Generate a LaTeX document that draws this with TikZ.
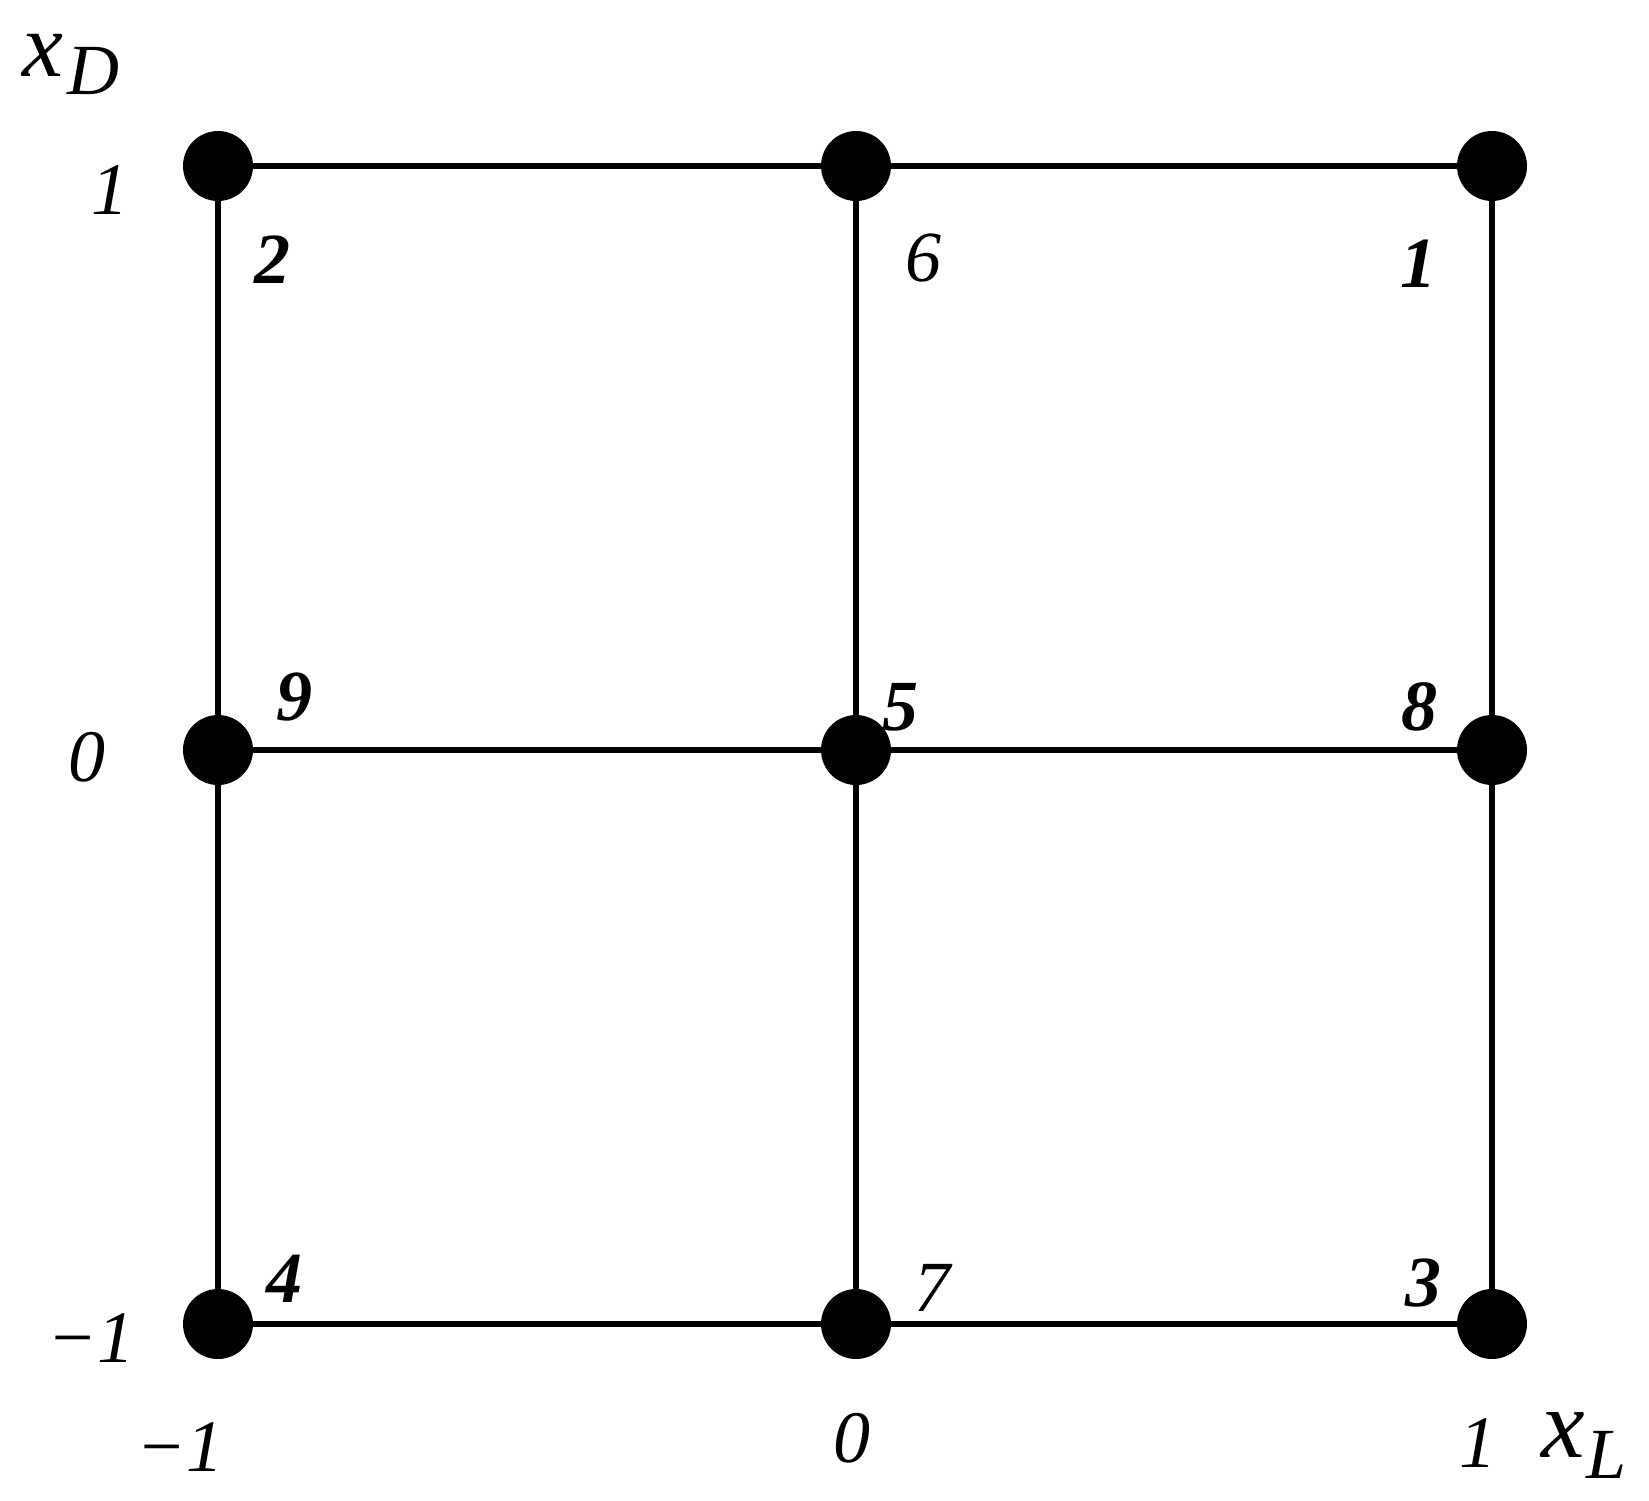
\documentclass[tikz,border=0pt]{standalone}
\usepackage{fontspec}
\setmainfont{Liberation Serif}[ItalicFont={Liberation Serif Italic},BoldItalicFont={Liberation Serif Bold Italic},BoldFont={Liberation Serif Bold}]
\begin{document}
\begin{tikzpicture}[x=0.5pt,y=-0.5pt,
  dot/.style={circle,fill=black,draw=none,minimum size=35pt,inner sep=0pt},
  edge/.style={line width=2.8pt},
  ticklab/.style={inner sep=0pt,font=\fontsize{37}{37}\selectfont\itshape},
  numlab/.style={inner sep=0pt,font=\fontsize{36}{36}\selectfont\bfseries\itshape},
  numlabthin/.style={inner sep=0pt,font=\fontsize{36}{36}\selectfont\itshape},
  axlab/.style={inner sep=0pt,anchor=base west}]
\useasboundingbox (0,0) rectangle (1649,1500);
% points
\node[dot] (n2) at (218,166) {};
\node[dot] (n6) at (856,166) {};
\node[dot] (n1) at (1492,166) {};
\node[dot] (n9) at (218,750) {};
\node[dot] (n5) at (856,750) {};
\node[dot] (n8) at (1492,750) {};
\node[dot] (n4) at (218,1324) {};
\node[dot] (n7) at (856,1324) {};
\node[dot] (n3) at (1492,1324) {};
% grid edges
\draw[edge] (n2) -- (n6);
\draw[edge] (n6) -- (n1);
\draw[edge] (n9) -- (n5);
\draw[edge] (n5) -- (n8);
\draw[edge] (n4) -- (n7);
\draw[edge] (n7) -- (n3);
\draw[edge] (n2) -- (n9);
\draw[edge] (n9) -- (n4);
\draw[edge] (n6) -- (n5);
\draw[edge] (n5) -- (n7);
\draw[edge] (n1) -- (n8);
\draw[edge] (n8) -- (n3);
% point numbers
\node[numlab] (l2) at (272,260) {2};
\node[numlabthin] (l6) at (923,258) {6};
\node[numlab] (l1) at (1418,264) {1};
\node[numlab] (l9) at (294,697) {9};
\node[numlab] (l5) at (900,707) {5};
\node[numlab] (l8) at (1419,707) {8};
\node[numlab] (l4) at (284,1279) {4};
\node[numlabthin] (l7) at (932,1288) {7};
\node[numlab] (l3) at (1423,1283) {3};
% axis ticks
\node[ticklab] (ty1) at (110,190) {1};
\node[ticklab] (ty0) at (87,757) {0};
\node[ticklab] (tym) at (91,1338) {−1};
\node[ticklab] (txm) at (180,1447) {−1};
\node[ticklab] (tx0) at (852,1438) {0};
\node[ticklab] (tx1) at (1478,1443) {1};
% axis names
\node[axlab] (xD) at (22,76) {\fontsize{46}{46}\selectfont\itshape x\kern2pt\raisebox{-9pt}{\fontsize{36}{36}\selectfont D}};
\node[axlab] (xL) at (1541,1457) {\fontsize{49}{49}\selectfont\itshape x\kern1pt\raisebox{-10.5pt}{\fontsize{36}{36}\selectfont L}};
\end{tikzpicture}
\end{document}
